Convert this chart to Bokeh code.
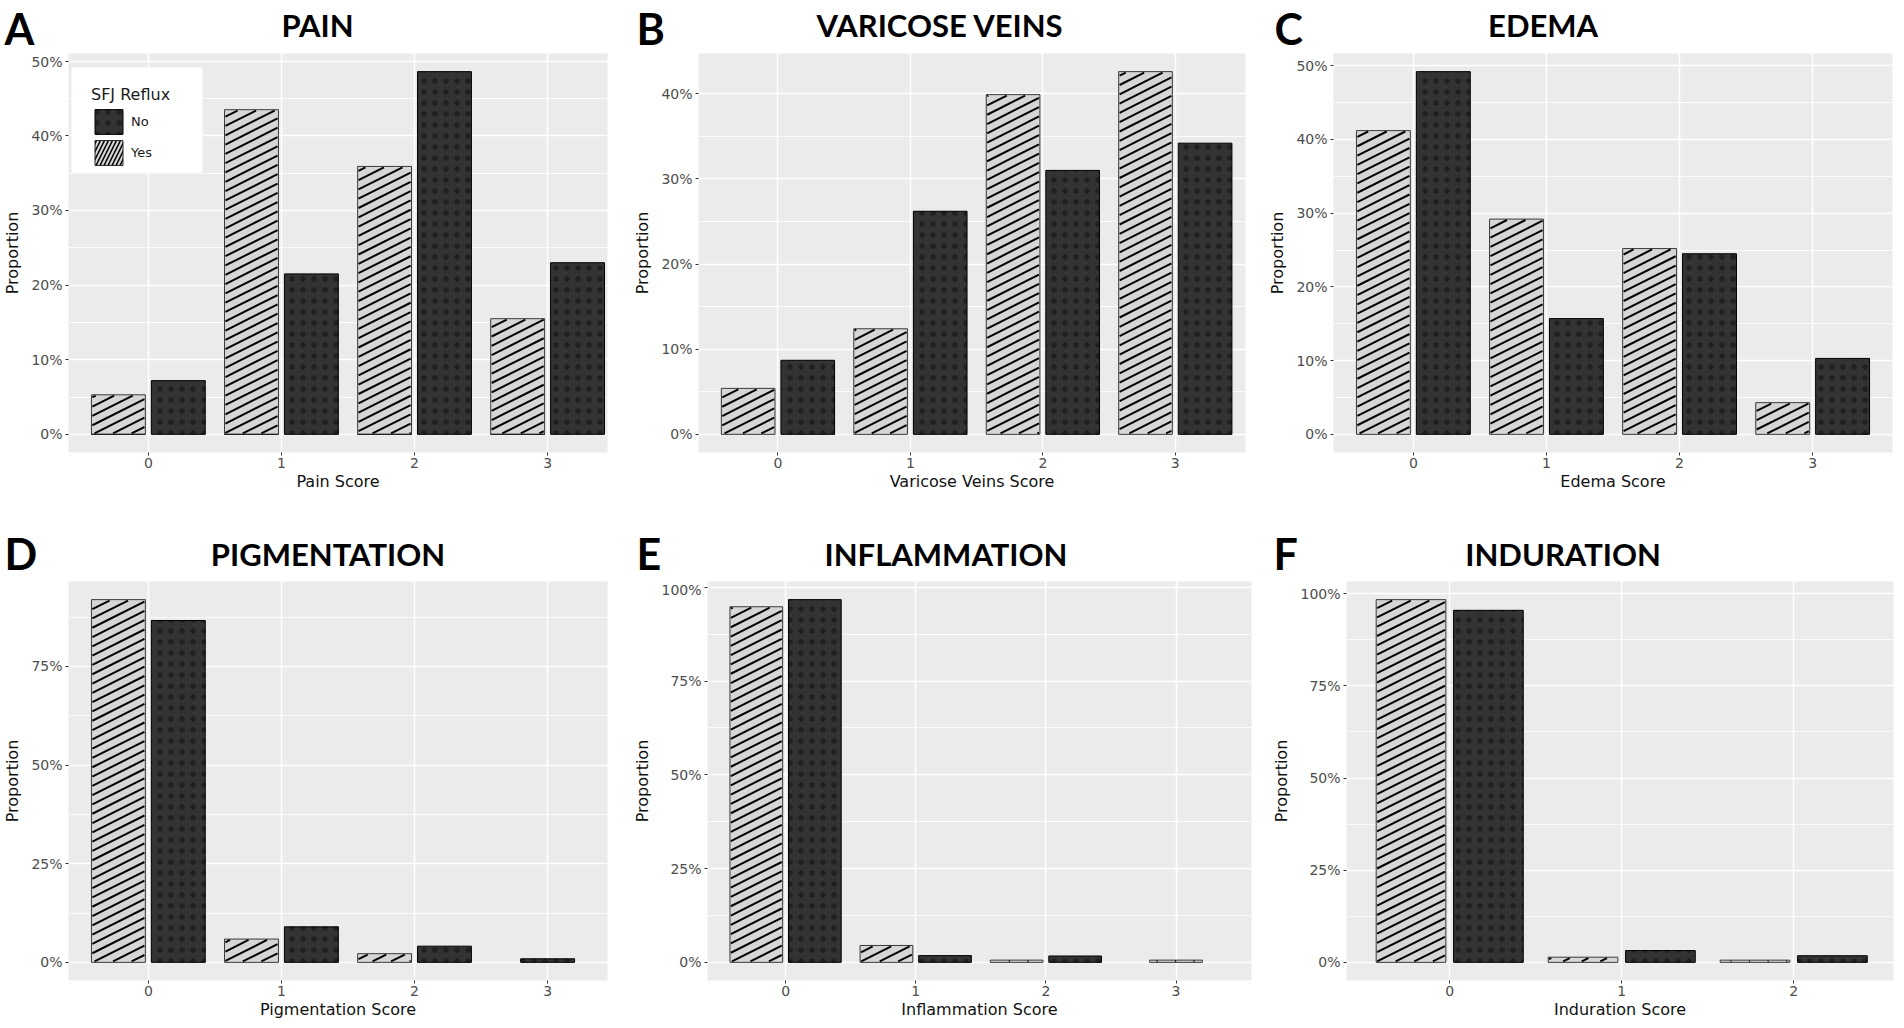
import math
from bokeh.plotting import figure
from bokeh.layouts import column, row
from bokeh.models import (Range1d, FixedTicker, NumeralTickFormatter, Legend, LegendItem, BoxAnnotation)
from bokeh.core.properties import value
from bokeh.embed import file_html
from bokeh.resources import INLINE

# ---------------- data (proportions) ----------------
groups = ["No", "Yes"]
legend_title = "SFJ Reflux"

scores_4 = [0, 1, 2, 3]
scores_3 = [0, 1, 2]

pain_yes = [0.053, 0.435, 0.359, 0.155]
pain_no = [0.072, 0.215, 0.486, 0.230]

varicose_yes = [0.054, 0.124, 0.399, 0.426]
varicose_no = [0.087, 0.262, 0.310, 0.342]

edema_yes = [0.412, 0.292, 0.252, 0.043]
edema_no = [0.492, 0.157, 0.245, 0.103]

pigmentation_yes = [0.919, 0.059, 0.022, None]
pigmentation_no = [0.866, 0.090, 0.041, 0.009]

inflammation_yes = [0.948, 0.045, 0.006, 0.006]
inflammation_no = [0.967, 0.018, 0.017, None]

induration_yes = [0.984, 0.014, 0.006]
induration_no = [0.955, 0.032, 0.018]

ticks_10 = [0.0, 0.1, 0.2, 0.3, 0.4, 0.5]
ticks_10b = [0.0, 0.1, 0.2, 0.3, 0.4]
ticks_25 = [0.0, 0.25, 0.5, 0.75]
ticks_25b = [0.0, 0.25, 0.5, 0.75, 1.0]

panel_letters = ["A", "B", "C", "D", "E", "F"]
panel_titles = ["PAIN", "VARICOSE VEINS", "EDEMA", "PIGMENTATION", "INFLAMMATION", "INDURATION"]
x_titles = ["Pain Score", "Varicose Veins Score", "Edema Score",
            "Pigmentation Score", "Inflammation Score", "Induration Score"]
y_title = "Proportion"

panels_data = [
    (scores_4, pain_yes, pain_no, ticks_10),
    (scores_4, varicose_yes, varicose_no, ticks_10b),
    (scores_4, edema_yes, edema_no, ticks_10),
    (scores_4, pigmentation_yes, pigmentation_no, ticks_25),
    (scores_4, inflammation_yes, inflammation_no, ticks_25b),
    (scores_3, induration_yes, induration_no, ticks_25b),
]

# ---------------- layout / style ----------------
# columns: (fig_x, width, border_left, border_right)
cols = [(0, 630, 66, 23), (630, 635, 62, 20), (1265, 639, 66, 12),
        (0, 630, 66, 23), (630, 635, 73, 14), (1265, 639, 81, 11)]
# rows: (row_top, header_height, body_height, border_bottom)
rows_lay = [(0, 53, 467, 68), (520, 61, 447, 48)]
x_ends = [3.45, 3.53, 3.6, 3.45, 3.58, 2.58]
# header text placement in page pixels: letter left, letter baseline, title centre, title baseline
heads = [(4, 43, 317, 35), (636, 43, 939.6, 35), (1274, 43, 1542.6, 35),
         (4, 568, 327.5, 564), (636, 568, 945.5, 564), (1273, 568, 1562.6, 564)]
LETTER_PX = 43
TITLE_PX = 31
BASE_SHIFT = 0.34          # renderer's alphabetic-baseline correction (em)
DODGE = 0.225
BAR_W = 0.405
STRIPE_SLOPE = 0.5         # hatch stripe slope on screen
STRIPE_GAP = 9.3           # vertical spacing of hatch stripes, px

YES_FILL = "#d6d6d6"
NO_FILL = "#333333"
PANEL_BG = "#ebebeb"
TICK_COL = "#4d4d4d"
AX_FONT = "DejaVu Sans"
HEAD_FONT = "Lato"


def bar_positions(scores, a, b, sign):
    xs, tops = [], []
    for s, v, other in zip(scores, a, b):
        if v is None:
            continue
        xs.append(s if other is None else s + sign * DODGE)
        tops.append(v)
    return xs, tops


def stripe_segments(xcs, tops, kx, ky):
    """Hatch stripes clipped to each bar, computed in pixel space, returned in data units."""
    x0s, y0s, x1s, y1s = [], [], [], []
    m, gap, inset = STRIPE_SLOPE, STRIPE_GAP, 0.9
    for xc, t in zip(xcs, tops):
        xa = (xc - BAR_W / 2) * kx + inset
        xb = (xc + BAR_W / 2) * kx - inset
        lo, hi = inset, t * ky - inset
        if hi <= lo:
            lo, hi = 0.0, t * ky
        kmin = math.ceil((lo - m * xb) / gap)
        kmax = math.floor((hi - m * xa) / gap)
        for j in range(kmin, kmax + 1):
            c = j * gap
            xs = max(xa, (lo - c) / m)
            xe = min(xb, (hi - c) / m)
            if xe - xs < 0.6:
                continue
            x0s.append(xs / kx); y0s.append((m * xs + c) / ky)
            x1s.append(xe / kx); y1s.append((m * xe + c) / ky)
    return x0s, y0s, x1s, y1s


headers, bodies = [], []
for k, (scores, yes, no, yticks) in enumerate(panels_data):
    fx, W, bl, br = cols[k]
    row_top, HH, BH, bb = rows_lay[k // 3]
    lx, ly, tcx, ty = heads[k]

    # ---- header strip with panel letter and title ----
    h = figure(width=W, height=HH, toolbar_location=None, output_backend="svg",
               x_range=Range1d(0, W), y_range=Range1d(HH, 0), min_border=0,
               x_axis_type=None, y_axis_type=None)
    h.outline_line_color = None
    h.background_fill_color = "white"
    h.border_fill_color = "white"
    h.text(x=[lx - fx], y=[ly - row_top - BASE_SHIFT * LETTER_PX], text=[panel_letters[k]],
           text_font=value(HEAD_FONT), text_font_style="bold", text_font_size=f"{LETTER_PX}px",
           text_color="black", text_align="left", text_baseline="alphabetic")
    h.text(x=[tcx - fx], y=[ty - row_top - BASE_SHIFT * TITLE_PX], text=[panel_titles[k]],
           text_font=value(HEAD_FONT), text_font_style="bold", text_font_size=f"{TITLE_PX}px",
           text_color="black", text_align="center", text_baseline="alphabetic")
    headers.append(h)

    # ---- bar chart ----
    vals = [v for v in yes + no if v is not None]
    ymax = max(vals)
    pad = 0.05 * ymax
    x_lo, x_hi = -0.6, x_ends[k]
    y_lo, y_hi = -pad, ymax + pad
    p = figure(width=W, height=BH, title=None, toolbar_location=None, output_backend="svg",
               x_range=Range1d(x_lo, x_hi), y_range=Range1d(y_lo, y_hi),
               min_border_left=bl, min_border_right=br, min_border_top=0, min_border_bottom=bb)
    p.background_fill_color = PANEL_BG
    p.border_fill_color = "white"
    p.outline_line_color = None
    frame_w = W - bl - br
    frame_h = BH - bb
    kx = frame_w / (x_hi - x_lo)
    ky = frame_h / (y_hi - y_lo)

    step = yticks[1] - yticks[0]
    minors = [t + step / 2 for t in yticks if t + step / 2 < y_hi]
    yt = FixedTicker(ticks=yticks, minor_ticks=minors)
    xt = FixedTicker(ticks=scores, minor_ticks=[])
    p.yaxis.ticker = yt
    p.xaxis.ticker = xt
    p.ygrid.ticker = yt
    p.xgrid.ticker = xt
    p.yaxis.formatter = NumeralTickFormatter(format="0%")

    for g in (p.xgrid, p.ygrid):
        g.grid_line_color = "white"
        g.grid_line_width = 1.5
    p.ygrid.minor_grid_line_color = "white"
    p.ygrid.minor_grid_line_width = 0.8

    for ax in (p.xaxis, p.yaxis):
        ax.axis_line_color = None
        ax.major_tick_line_color = "#333333"
        ax.major_tick_out = 3
        ax.major_tick_in = 0
        ax.minor_tick_line_color = None
        ax.major_label_text_font = AX_FONT
        ax.major_label_text_font_size = "14px"
        ax.major_label_text_color = TICK_COL
        ax.major_label_standoff = 2
        ax.axis_label_text_font = AX_FONT
        ax.axis_label_text_font_size = "16px"
        ax.axis_label_text_font_style = "normal"
        ax.axis_label_text_color = "#111111"
    p.xaxis.axis_label = x_titles[k]
    p.xaxis.axis_label_standoff = 1
    p.yaxis.axis_label = y_title
    p.yaxis.axis_label_standoff = 6

    yx, yv = bar_positions(scores, yes, no, -1)
    nx, nv = bar_positions(scores, no, yes, +1)
    p.vbar(x=yx, top=yv, bottom=0, width=BAR_W, fill_color=YES_FILL,
           line_color="#3a3a3a", line_width=1)
    sx0, sy0, sx1, sy1 = stripe_segments(yx, yv, kx, ky)
    p.segment(x0=sx0, y0=sy0, x1=sx1, y1=sy1, line_color="black", line_width=2.0)
    r_no = p.vbar(x=nx, top=nv, bottom=0, width=BAR_W, fill_color=NO_FILL,
                  line_color="#000000", line_width=1,
                  hatch_pattern=".", hatch_color="#202020", hatch_scale=11, hatch_weight=0.8)

    if k == 0:
        # legend key proxy for the hatched "Yes" bars (zero height, sits on the bars' base)
        r_yes_key = p.vbar(x=yx, top=0, bottom=0, width=BAR_W, fill_color=YES_FILL,
                           line_color="#222222", line_width=1,
                           hatch_pattern="/", hatch_color="#000000", hatch_scale=8, hatch_weight=1.5)
        # white legend backdrop (screen px relative to the plot frame)
        p.add_layout(BoxAnnotation(left=3, right=134, top=385, bottom=280,
                                   left_units="screen", right_units="screen",
                                   top_units="screen", bottom_units="screen",
                                   fill_color="white", fill_alpha=1.0, line_color=None))
        leg = Legend(items=[LegendItem(label=groups[0], renderers=[r_no]),
                            LegendItem(label=groups[1], renderers=[r_yes_key])],
                     title=legend_title, location=(23, 284), margin=0, padding=0,
                     glyph_width=35, glyph_height=31, label_height=31, spacing=0,
                     label_standoff=5, label_width=50, title_standoff=2,
                     background_fill_alpha=0.0, border_line_color=None,
                     label_text_font=AX_FONT, label_text_font_size="13px", label_text_color="#1a1a1a",
                     title_text_font=AX_FONT, title_text_font_size="16px",
                     title_text_font_style="normal", title_text_color="#1a1a1a")
        p.add_layout(leg)
    bodies.append(p)

page = column(row(*headers[0:3]), row(*bodies[0:3]), row(*headers[3:6]), row(*bodies[3:6]))
open("out.html", "w").write(file_html(page, INLINE))
